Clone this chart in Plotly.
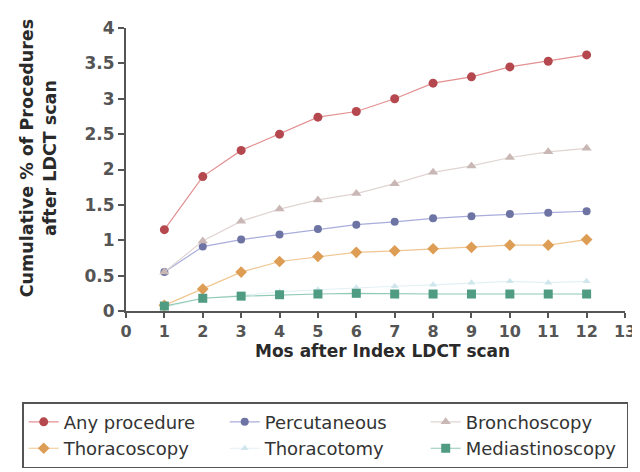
import plotly.graph_objects as go

months = [1, 2, 3, 4, 5, 6, 7, 8, 9, 10, 11, 12]
any_procedure = [1.15, 1.90, 2.27, 2.50, 2.74, 2.82, 3.00, 3.22, 3.31, 3.45, 3.53, 3.62]
percutaneous = [0.55, 0.91, 1.01, 1.08, 1.16, 1.22, 1.26, 1.31, 1.34, 1.37, 1.39, 1.41]
bronchoscopy = [0.55, 0.99, 1.27, 1.44, 1.57, 1.66, 1.80, 1.96, 2.05, 2.17, 2.25, 2.30]
thoracoscopy = [0.08, 0.31, 0.55, 0.70, 0.77, 0.83, 0.85, 0.88, 0.90, 0.93, 0.93, 1.01]
thoracotomy = [0.05, 0.18, 0.22, 0.27, 0.30, 0.33, 0.35, 0.37, 0.40, 0.42, 0.40, 0.42]
mediastinoscopy = [0.07, 0.18, 0.21, 0.23, 0.24, 0.25, 0.24, 0.24, 0.24, 0.24, 0.24, 0.24]

x_title = "Mos after Index LDCT scan"
y_title = "Cumulative % of Procedures<br>after LDCT scan"

series = [
    ("Any procedure", any_procedure, "#b5484e", "#e39090", "circle", 9),
    ("Percutaneous", percutaneous, "#6d74a3", "#a8addb", "circle", 8),
    ("Bronchoscopy", bronchoscopy, "#c9b7b5", "#e0d4d2", "triangle-up", 9),
    ("Thoracoscopy", thoracoscopy, "#dd9d55", "#f0c690", "diamond", 9),
    ("Thoracotomy", thoracotomy, "#cfe6ec", "#e3f1f4", "triangle-up", 7),
    ("Mediastinoscopy", mediastinoscopy, "#4f9c82", "#90cab5", "square", 9),
]

fig = go.Figure()
for name, vals, mcol, lcol, sym, msize in series:
    fig.add_trace(go.Scatter(
        x=months, y=vals, name=name, mode="lines+markers",
        line=dict(color=lcol, width=1.2),
        marker=dict(color=mcol, size=msize, symbol=sym),
    ))

FONT = "DejaVu Sans, Liberation Sans, Arial, sans-serif"

fig.update_layout(
    width=640, height=472,
    margin=dict(l=118, r=23, t=20, b=169, autoexpand=False),
    paper_bgcolor="white", plot_bgcolor="white",
    font=dict(family=FONT, color="#3a3a3a", size=16),
    showlegend=True,
    legend=dict(
        orientation="h", x=-0.208, xanchor="left", y=-0.322, yanchor="top",
        bordercolor="#555555", borderwidth=1.5, entrywidth=156,
        font=dict(size=18, color="#333333"), tracegroupgap=0,
        itemwidth=30,
    ),
    annotations=[
        dict(text="<b>" + x_title + "</b>", xref="paper", yref="paper",
             x=0.515, y=-0.143, xanchor="center", yanchor="middle",
             showarrow=False, font=dict(size=17, color="#2a2a2a")),
        dict(text="<b>" + y_title + "</b>", xref="paper", yref="paper",
             x=-0.176, y=0.54, xanchor="center", yanchor="middle", textangle=-90,
             showarrow=False, font=dict(size=17.5, color="#2a2a2a")),
    ],
)
fig.update_xaxes(
    range=[0, 13], tickmode="linear", tick0=0, dtick=1,
    showline=True, linecolor="#555555", linewidth=2,
    ticks="outside", ticklen=5, tickcolor="#555555", tickwidth=1.5,
    showgrid=False, zeroline=False, automargin=False,
    tickfont=dict(size=16, color="#555555", weight="bold"),
)
fig.update_yaxes(
    range=[0, 4], tickmode="linear", tick0=0, dtick=0.5,
    showline=True, linecolor="#555555", linewidth=2,
    ticks="outside", ticklen=6, tickcolor="#555555", tickwidth=1.5,
    showgrid=False, zeroline=False, automargin=False,
    tickfont=dict(size=17, color="#555555", weight="bold"),
)

fig.write_html("out.html")
